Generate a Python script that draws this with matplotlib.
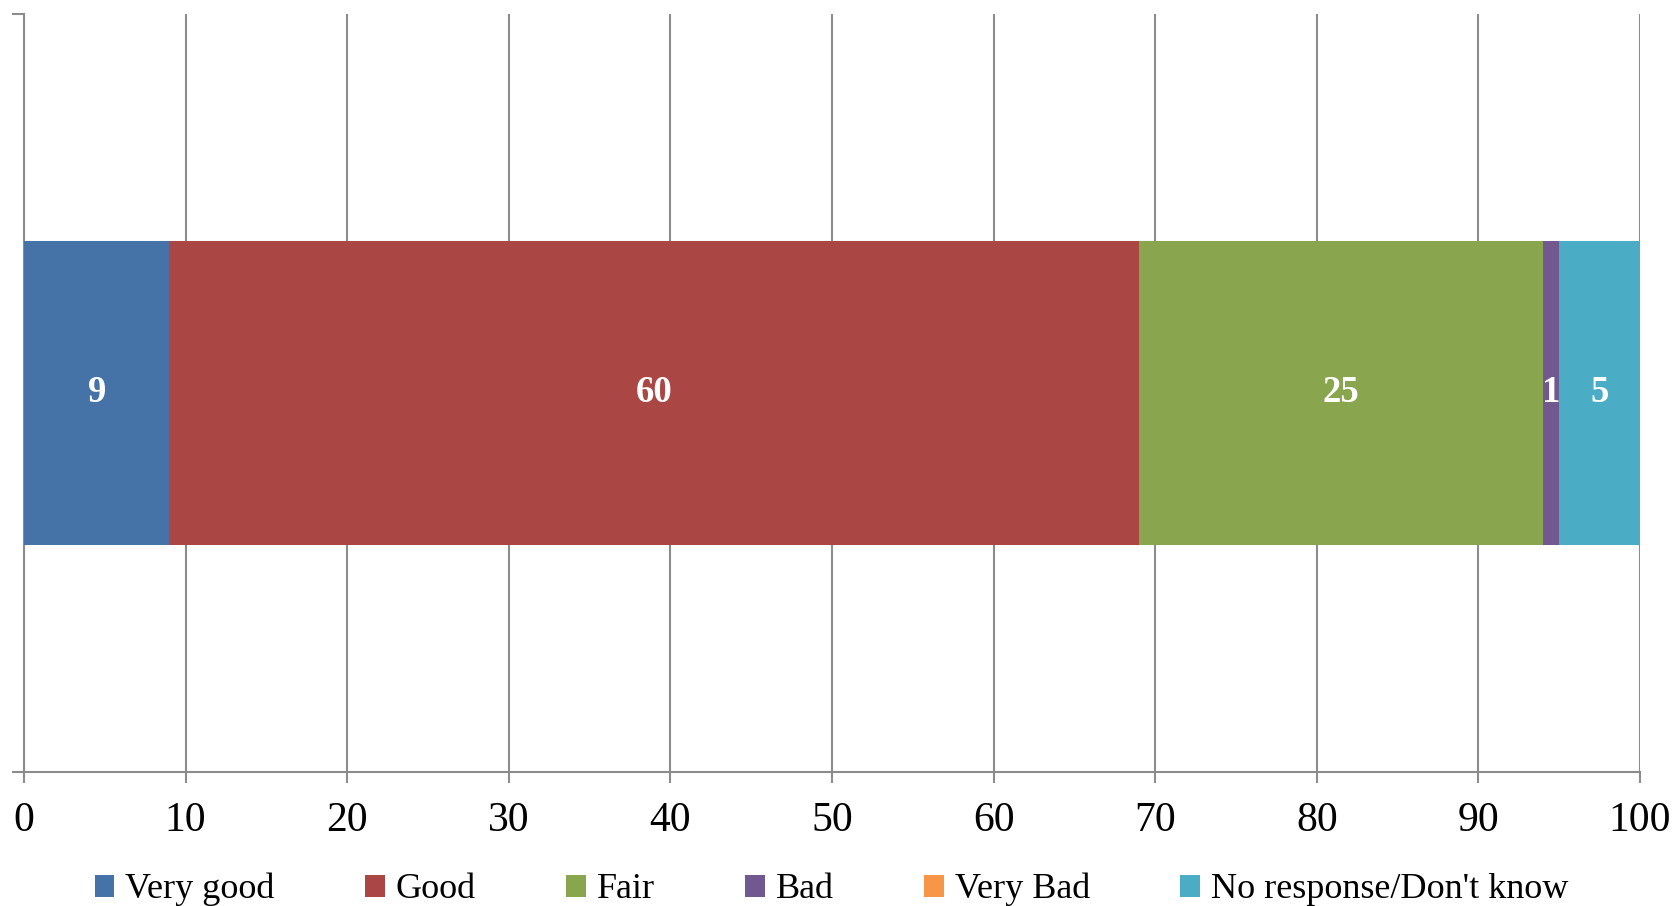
import matplotlib
matplotlib.use("Agg")
import matplotlib.pyplot as plt
from matplotlib.patches import Patch

categories = ["Very good", "Good", "Fair", "Bad", "Very Bad", "No response/Don't know"]
values = [9, 60, 25, 1, 0, 5]
colors = ["#4573A7", "#AA4644", "#89A54E", "#71588F", "#F79646", "#4BACC6"]
xticks = [0, 10, 20, 30, 40, 50, 60, 70, 80, 90, 100]

plt.rcParams['font.family'] = ['Liberation Serif', 'DejaVu Serif']

fig = plt.figure(figsize=(16.73, 9.06), dpi=100)
ax = fig.add_axes([24/1673, 1-772/906, (1640-24)/1673, (772-14)/906])

grid_c = "#8C8C8C"
left = 0
for cat, v, c in zip(categories, values, colors):
    ax.barh(0, v, left=left, height=0.4, color=c, label=cat, zorder=3)
    if v > 0:
        ax.text(left + v/2, 0, f"{v}", ha='center', va='center', color='white',
                fontsize=26.5, fontweight='bold', zorder=4)
    left += v

ax.set_xlim(0, 100)
ax.set_ylim(-0.5, 0.5)
ax.set_xticks(xticks)
ax.set_xticklabels([str(t) for t in xticks], fontsize=30)
ax.set_yticks([-0.5, 0.5])
ax.set_yticklabels([])
ax.tick_params(axis='x', direction='out', length=8, width=1.5, color=grid_c, pad=13)
ax.tick_params(axis='y', direction='out', length=8.5, width=1.5, color=grid_c)
ax.grid(axis='x', color=grid_c, linewidth=1.5, zorder=0)
for s in ['top', 'right']:
    ax.spines[s].set_visible(False)
for s in ['left', 'bottom']:
    ax.spines[s].set_color(grid_c)
    ax.spines[s].set_linewidth(1.5)

handles = [Patch(facecolor=c, edgecolor='none') for c in colors]
fig.legend(handles, categories, loc='center', bbox_to_anchor=(0.497, 0.018), ncol=6,
           frameon=False, fontsize=26, handlelength=0.55, handleheight=0.55,
           handletextpad=0.3, columnspacing=2.5, borderpad=0, borderaxespad=0)

fig.savefig("out.png", dpi=100)
